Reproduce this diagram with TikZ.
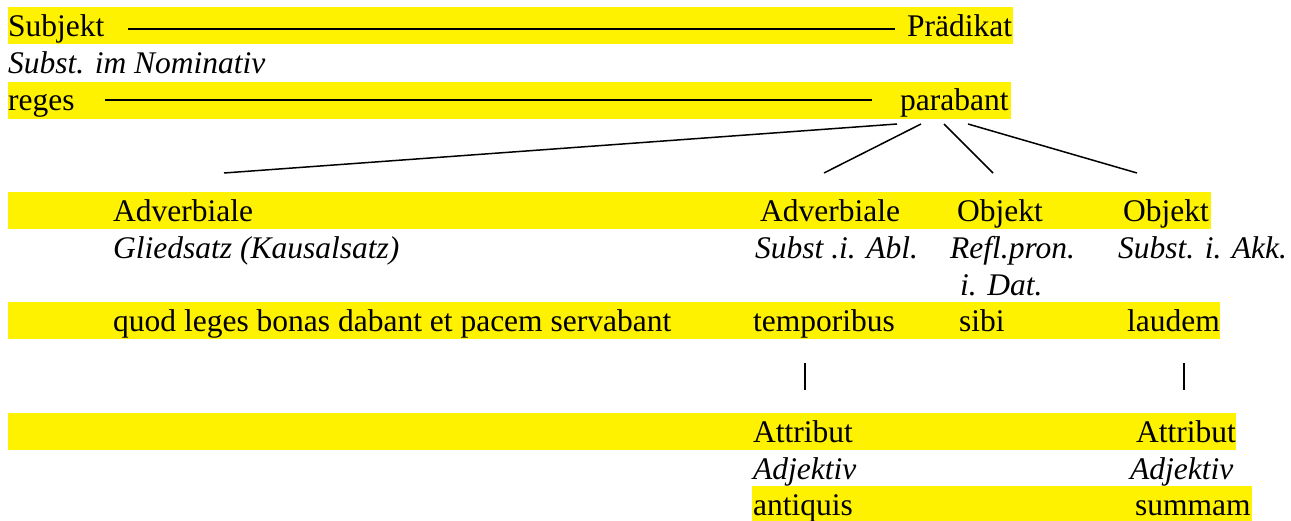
\documentclass[tikz,border=0pt]{standalone}
\usepackage{fontspec}
\setmainfont{Liberation Serif}
\usetikzlibrary{calc}

\begin{document}
\begin{tikzpicture}[
    x=1pt, y=-1pt,
    word/.style={inner sep=0pt, anchor=base west, font=\fontsize{31.5}{37}\selectfont},
    case/.style={word, font=\fontsize{31.5}{37}\selectfont\itshape},
    hilite/.style={fill=yellow},
    rule/.style={line width=2.2pt},
    branch/.style={line width=1.5pt},
    tick/.style={line width=1.3pt}
]
    \useasboundingbox (0,0) rectangle (1291,521);

    % Highlights -------------------------------------------------

    \fill[hilite] (8,7.5) rectangle (1013,44.5);
    \fill[hilite] (8,82) rectangle (1011,119);
    \fill[hilite] (8,192.5) rectangle (1211,229.5);
    \fill[hilite] (8,302.5) rectangle (1220,339.5);
    \fill[hilite] (8,413) rectangle (1236,450);
    \fill[hilite] (752,486) rectangle (1252,521);

    % Nodes ------------------------------------------------------

    \node[word] (subj) at (8,36.5) {Subjekt};
    \node[word] (praed) at (907,36.5) {Prädikat};
    \node[case] (subjcase) at (8,73.5) {Subst. im Nominativ};
    \node[word] (reges) at (8,111) {reges};
    \node[word] (parabant) at (900,111) {parabant};

    \node[word] (adv1) at (113,221.5) {Adverbiale};
    \node[word] (adv2) at (760,221.5) {Adverbiale};
    \node[word] (obj1) at (957,221.5) {Objekt};
    \node[word] (obj2) at (1123,221.5) {Objekt};

    % cases
    \node[case] (adv1case) at (113,258.5) {Gliedsatz (Kausalsatz)};
    \node[case] (adv2case) at (755,258.5) {Subst .i. Abl.};
    \node[case] (obj1case) at (950,258.5) {Refl.pron.};
    \node[case] (obj1casb) at (960,295.5) {i. Dat.};
    \node[case] (obj2case) at (1118,258.5) {Subst. i. Akk.};

    \node[word] (quod) at (113,331.5) {quod leges bonas dabant et pacem servabant};
    \node[word] (tempor) at (753,331.5) {temporibus};
    \node[word] (sibi) at (959,331.5) {sibi};
    \node[word] (laudem) at (1127,331.5) {laudem};

    \node[word] (attr1) at (753,442) {Attribut};
    \node[word] (attr2) at (1136,442) {Attribut};
    \node[case] (attr1case) at (753,479) {Adjektiv};
    \node[case] (attr2case) at (1130,479) {Adjektiv};
    \node[word] (antiquis) at (753,515) {antiquis};
    \node[word] (summam) at (1135,515) {summam};

    % Lines ------------------------------------------------------

    \draw[rule] ($(subj.base east)+(23,-7.5)$) -- ($(praed.base west)+(-12,-7.5)$);
    \draw[rule] ($(reges.base east)+(30,-11)$) -- ($(parabant.base west)+(-28,-11)$);

    \draw[branch] ($(parabant.base west)+(-3,13)$) -- ($(adv1.base west)+(111,-48.5)$);
    \draw[branch] ($(parabant.base west)+(21,13)$) -- ($(adv2.base west)+(64,-48.5)$);
    \draw[branch] ($(parabant.base west)+(44,13)$) -- ($(obj1.base west)+(36,-48.5)$);
    \draw[branch] ($(parabant.base west)+(68,13)$) -- ($(obj2.base west)+(14,-48.5)$);

    \draw[tick] ($(tempor.base west)+(52,31.5)$) -- ($(attr1.base west)+(52,-52)$);
    \draw[tick] ($(laudem.base west)+(57,31.5)$) -- ($(attr2.base west)+(48,-52)$);

\end{tikzpicture}
\end{document}
